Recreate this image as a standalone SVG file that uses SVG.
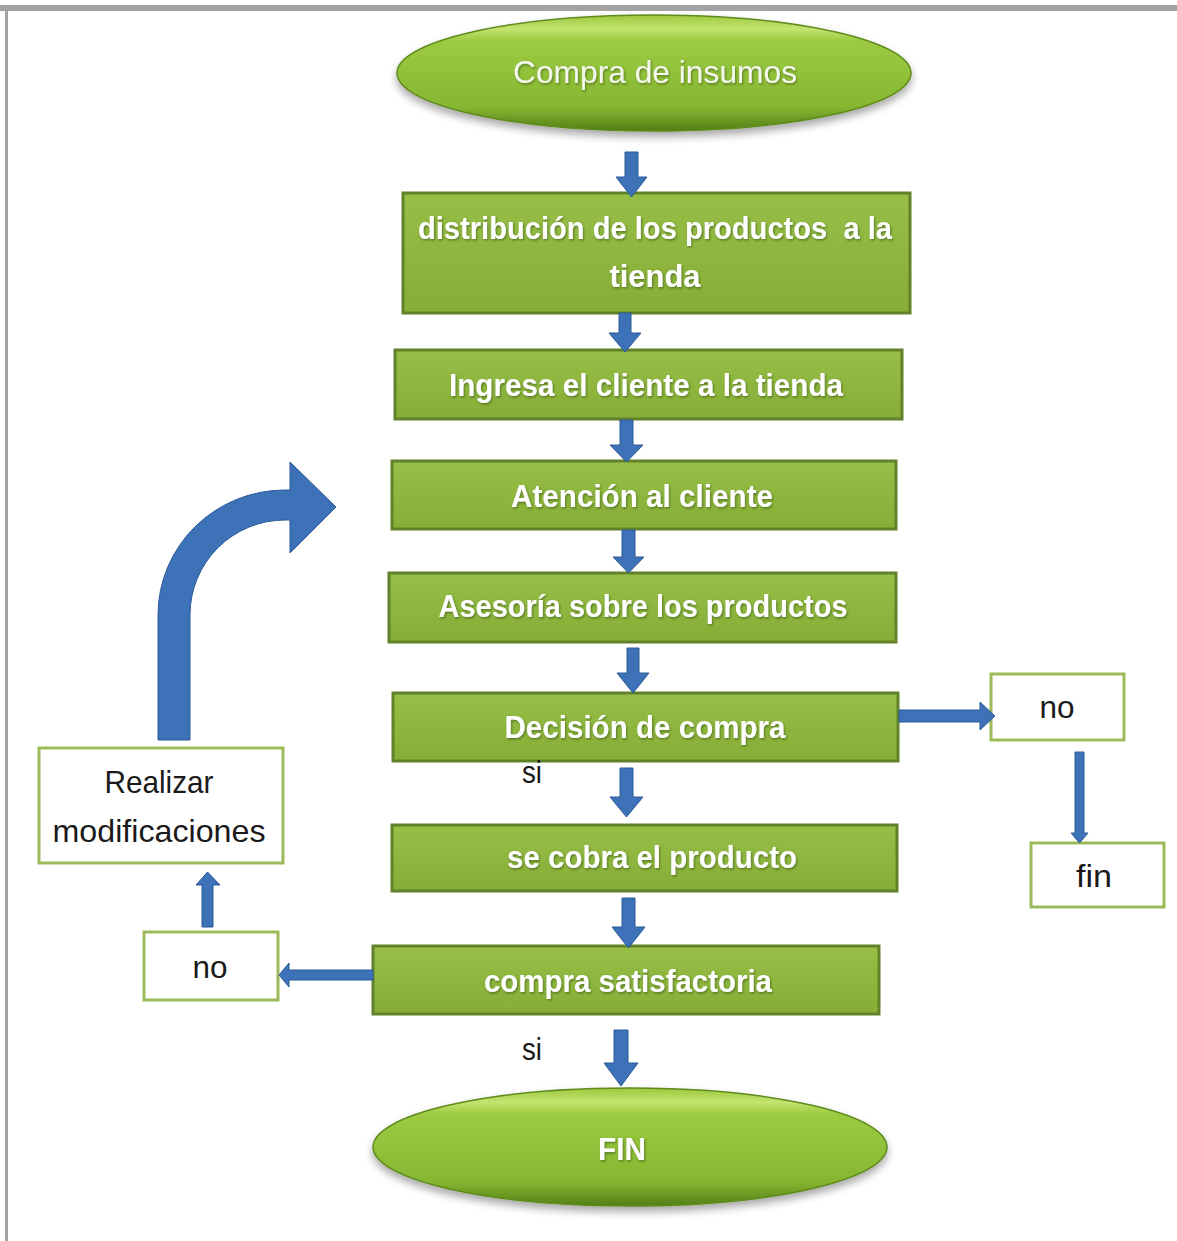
<svg xmlns="http://www.w3.org/2000/svg" width="1177" height="1241" viewBox="0 0 1177 1241">
<defs>
<linearGradient id="gRect" x1="0" y1="0" x2="0" y2="1">
<stop offset="0" stop-color="#97bf48"/>
<stop offset="1" stop-color="#86ae36"/>
</linearGradient>
<linearGradient id="gOval" x1="0" y1="0" x2="0" y2="1">
<stop offset="0" stop-color="#9cc83e"/>
<stop offset="0.12" stop-color="#c4e36f"/>
<stop offset="0.22" stop-color="#9ccb42"/>
<stop offset="0.8" stop-color="#86b531"/>
<stop offset="1" stop-color="#527f16"/>
</linearGradient>
<filter id="shadow" x="-10%" y="-20%" width="120%" height="150%">
<feGaussianBlur in="SourceAlpha" stdDeviation="4"/>
<feOffset dx="0" dy="5" result="b"/>
<feComponentTransfer><feFuncA type="linear" slope="0.35"/></feComponentTransfer>
<feMerge><feMergeNode/><feMergeNode in="SourceGraphic"/></feMerge>
</filter>
<filter id="tshadow" x="-5%" y="-20%" width="110%" height="150%">
<feDropShadow dx="1" dy="1.5" stdDeviation="0.8" flood-color="#34500c" flood-opacity="0.6"/>
</filter>
</defs>
<style>
.rect{fill:url(#gRect);stroke:#62822a;stroke-width:3}
.oval{fill:url(#gOval);stroke:#5e8a1c;stroke-width:1.5}
.wbox{fill:#ffffff;stroke:#9bbb59;stroke-width:3}
.tw{font-family:"Liberation Sans",Arial,sans-serif;font-weight:bold;font-size:31px;fill:#ffffff;text-anchor:middle;filter:url(#tshadow)}
.tw2{font-family:"Liberation Sans",Arial,sans-serif;font-size:32px;fill:#f4f8ec;text-anchor:middle;filter:url(#tshadow)}
.tb{font-family:"Liberation Sans",Arial,sans-serif;font-size:32px;fill:#1a1a1a;text-anchor:middle}
.arr{fill:#3d72b8;stroke:#2c5a96;stroke-width:1}
</style>
<rect width="1177" height="1241" fill="#ffffff"/>
<rect x="0" y="5" width="1177" height="6" fill="#a3a3a6"/>
<rect x="5" y="5" width="3" height="1236" fill="#a3a3a6"/>

<g id="n-inicio">
<ellipse class="oval" cx="654" cy="73" rx="257" ry="58" filter="url(#shadow)"/>
<text class="tw2" x="655" y="83" textLength="284" lengthAdjust="spacingAndGlyphs">Compra de insumos</text>
</g>
<g id="n-distribucion">
<rect class="rect" x="403" y="193" width="507" height="120"/>
<text class="tw" x="655" y="239" textLength="474" lengthAdjust="spacingAndGlyphs">distribución de los productos&#160; a la</text>
<text class="tw" x="655" y="287" textLength="91" lengthAdjust="spacingAndGlyphs">tienda</text>
</g>
<g id="n-ingresa">
<rect class="rect" x="395" y="350" width="507" height="69"/>
<text class="tw" x="646" y="396" textLength="394" lengthAdjust="spacingAndGlyphs">Ingresa el cliente a la tienda</text>
</g>
<g id="n-atencion">
<rect class="rect" x="392" y="461" width="504" height="68"/>
<text class="tw" x="642" y="507" textLength="262" lengthAdjust="spacingAndGlyphs">Atención al cliente</text>
</g>
<g id="n-asesoria">
<rect class="rect" x="389" y="573" width="507" height="69"/>
<text class="tw" x="643" y="617" textLength="409" lengthAdjust="spacingAndGlyphs">Asesoría sobre los productos</text>
</g>
<g id="n-decision">
<rect class="rect" x="393" y="693" width="505" height="68"/>
<text class="tw" x="645" y="738" textLength="281" lengthAdjust="spacingAndGlyphs">Decisión de compra</text>
</g>
<g id="n-no1">
<rect class="wbox" x="991" y="674" width="133" height="66"/>
<text class="tb" x="1057" y="718" textLength="35" lengthAdjust="spacingAndGlyphs">no</text>
</g>
<g id="n-fin1">
<rect class="wbox" x="1031" y="843" width="133" height="64"/>
<text class="tb" x="1094" y="887" textLength="36" lengthAdjust="spacingAndGlyphs">fin</text>
</g>
<g id="n-cobra">
<rect class="rect" x="392" y="825" width="505" height="66"/>
<text class="tw" x="652" y="868" textLength="290" lengthAdjust="spacingAndGlyphs">se cobra el producto</text>
</g>
<g id="n-satisfactoria">
<rect class="rect" x="373" y="946" width="506" height="68"/>
<text class="tw" x="628" y="992" textLength="288" lengthAdjust="spacingAndGlyphs">compra satisfactoria</text>
</g>
<g id="n-no2">
<rect class="wbox" x="144" y="932" width="134" height="68"/>
<text class="tb" x="210" y="978" textLength="35" lengthAdjust="spacingAndGlyphs">no</text>
</g>
<g id="n-modificaciones">
<rect class="wbox" x="39" y="748" width="244" height="115"/>
<text class="tb" x="159" y="793" textLength="109" lengthAdjust="spacingAndGlyphs">Realizar</text>
<text class="tb" x="159" y="842" textLength="213" lengthAdjust="spacingAndGlyphs">modificaciones</text>
</g>
<g id="n-fin">
<ellipse class="oval" cx="630" cy="1147" rx="257" ry="59" filter="url(#shadow)"/>
<text class="tw" x="622" y="1160" textLength="48" lengthAdjust="spacingAndGlyphs">FIN</text>
</g>

<g id="connectors">
<polygon class="arr" points="625,152 638,152 638,177 647,177 631.5,197 616,177 625,177"/>
<polygon class="arr" points="619,313 631,313 631,333 641,333 625,352 609,333 619,333"/>
<polygon class="arr" points="620,420 633,420 633,445 643,445 626.5,462 610,445 620,445"/>
<polygon class="arr" points="622,530 635,530 635,557 644,557 628.5,573 613,557 622,557"/>
<polygon class="arr" points="627,648 639,648 639,673 649,673 633,693 617,673 627,673"/>
<polygon class="arr" points="620,768 633,768 633,797 643,797 626.5,817 610,797 620,797"/>
<polygon class="arr" points="622,898 635,898 635,927 645,927 628.5,948 612,927 622,927"/>
<polygon class="arr" points="614,1030 628,1030 628,1063 638,1063 621,1086 604,1063 614,1063"/>
<polygon class="arr" points="899,710 980,710 980,702 995,716 980,730 980,722 899,722"/>
<polygon class="arr" points="1075,752 1084,752 1084,833 1088,833 1079.5,843 1071,833 1075,833"/>
<polygon class="arr" points="373,970 289,970 289,963 279,975 289,987 289,980 373,980"/>
<polygon class="arr" points="202,927 213,927 213,885 220,885 207.5,872 196,885 202,885"/>
<path class="arr" d="M158,740 L158,615 A127,125 0 0 1 285,490 L290,490 L290,462 L336,507 L290,553 L290,520 L285,520 A95,95 0 0 0 190,615 L190,740 Z"/>
<text class="tb" x="532" y="783" textLength="20" lengthAdjust="spacingAndGlyphs">si</text>
<text class="tb" x="532" y="1060" textLength="20" lengthAdjust="spacingAndGlyphs">si</text>
</g>
</svg>
